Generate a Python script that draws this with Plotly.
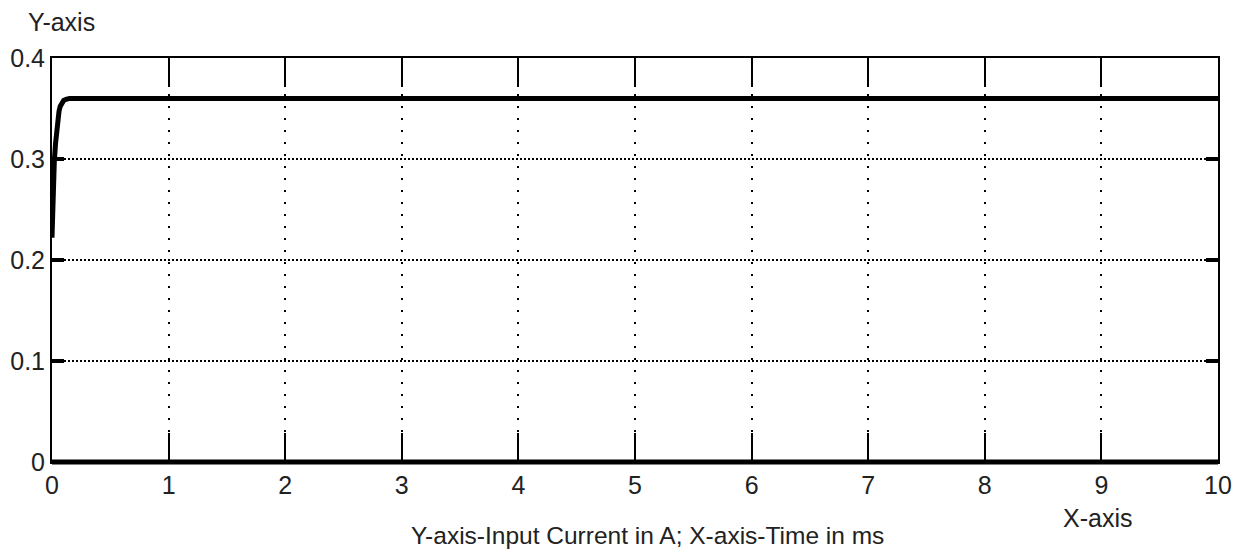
import plotly.graph_objects as go

# Input current (A) vs time (ms)
time_ms = [0.0, 0.005, 0.01, 0.02, 0.03, 0.04, 0.05, 0.06, 0.07, 0.08, 0.09, 0.10, 0.12, 0.15, 0.2, 1, 2, 3, 4, 5, 6, 7, 8, 9, 10]
current_a = [0.222, 0.262, 0.283, 0.298, 0.315, 0.330, 0.340, 0.347, 0.352, 0.355, 0.357, 0.358, 0.359, 0.36, 0.36, 0.36, 0.36, 0.36, 0.36, 0.36, 0.36, 0.36, 0.36, 0.36, 0.36]

x_ticks = [0, 1, 2, 3, 4, 5, 6, 7, 8, 9, 10]
y_ticks = [0, 0.1, 0.2, 0.3, 0.4]
y_tick_labels = ["0", "0.1", "0.2", "0.3", "0.4"]

FONT = "Liberation Sans, Arial, sans-serif"
FS = 25

fig = go.Figure()
fig.add_trace(go.Scatter(x=time_ms, y=current_a, mode="lines",
                         line=dict(color="black", width=5), showlegend=False))

fig.update_layout(
    width=1234, height=552,
    margin=dict(l=52, r=16, t=58, b=90, autoexpand=False),
    paper_bgcolor="white", plot_bgcolor="white",
    font=dict(family=FONT, size=FS, color="#222"),
    xaxis=dict(range=[0, 10], tickvals=x_ticks, ticktext=[str(v) for v in x_ticks],
               automargin=False,
               showgrid=True, gridcolor="black", gridwidth=1.5, griddash="2px,10px",
               ticks="inside", ticklen=29, tickwidth=2, tickcolor="black",
               showline=True, linecolor="black", linewidth=2, mirror="ticks",
               zeroline=False, tickfont=dict(size=FS, family=FONT, color="#222")),
    yaxis=dict(range=[0, 0.4], tickvals=y_ticks, ticktext=y_tick_labels,
               automargin=False,
               showgrid=True, gridcolor="black", gridwidth=1.5, griddash="2px,2px",
               ticks="inside", ticklen=12, tickwidth=4, tickcolor="black",
               showline=True, linecolor="black", linewidth=2, mirror="ticks",
               zeroline=False, tickfont=dict(size=FS, family=FONT, color="#222")),
    shapes=[dict(type="line", xref="paper", yref="paper", x0=0, x1=1, y0=0, y1=0,
                 line=dict(color="black", width=5), layer="above")],
    annotations=[
        dict(text="Y-axis", xref="paper", yref="paper", x=-0.022, y=1.0, yshift=36,
             xanchor="left", yanchor="middle", showarrow=False, font=dict(size=FS, family=FONT, color="#222")),
        dict(text="X-axis", xref="x", yref="paper", x=8.97, y=0, yshift=-56,
             xanchor="center", yanchor="middle", showarrow=False, font=dict(size=FS, family=FONT, color="#222")),
        dict(text="Y-axis-Input Current in A; X-axis-Time in ms", xref="paper", yref="paper",
             x=0.511, y=0, yshift=-73, xanchor="center", yanchor="middle", showarrow=False,
             font=dict(size=24.5, family=FONT, color="#222")),
    ],
)

fig.write_html("out.html", config={"displayModeBar": False},
               post_script="document.body.style.margin='0';document.body.style.overflow='hidden';")
